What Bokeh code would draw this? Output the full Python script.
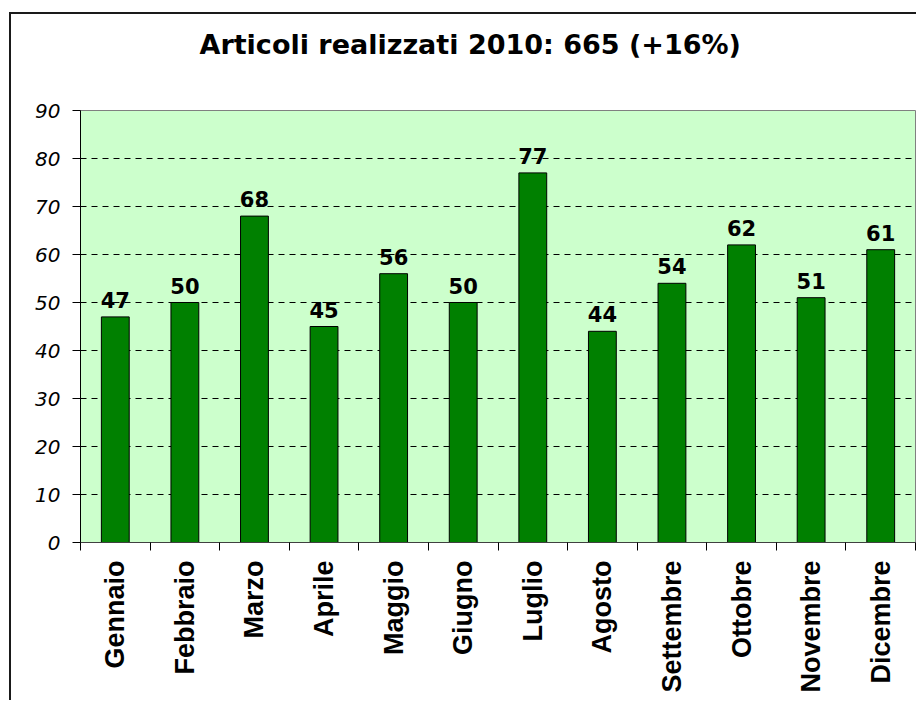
import math
from bokeh.plotting import figure
from bokeh.models import ColumnDataSource, Range1d, FixedTicker, Title
from bokeh.core.properties import value
from bokeh.embed import file_html
from bokeh.resources import INLINE

months = ["Gennaio", "Febbraio", "Marzo", "Aprile", "Maggio", "Giugno",
          "Luglio", "Agosto", "Settembre", "Ottobre", "Novembre", "Dicembre"]
articles = [47, 50, 68, 45, 56, 50, 77, 44, 54, 62, 51, 61]
y_ticks = [0, 10, 20, 30, 40, 50, 60, 70, 80, 90]
title_text = "Articoli realizzati 2010: 665 (+16%)"

n = len(months)
centers = [i + 0.5 for i in range(n)]
src = ColumnDataSource(dict(x=centers, month=months, val=articles,
                            lab=[str(v) for v in articles]))

p = figure(width=907, height=688, output_backend="svg", toolbar_location=None,
           title=None,
           x_range=Range1d(0, n), y_range=Range1d(0, 90),
           min_border_left=69, min_border_right=3, min_border_top=96,
           min_border_bottom=160)

# outer chart border (left and top edges visible in the window)
p.margin = (12, 0, 0, 9)
p.styles = {"border-left": "2px solid #1a1a1a", "border-top": "2px solid #1a1a1a"}

p.background_fill_color = "#CCFFCC"
p.border_fill_color = "white"
p.outline_line_color = "#808080"
p.outline_line_width = 1

# spacer panel, then the title further out
p.add_layout(Title(text=" ", text_font_size="1px", standoff=43), "above")
p.add_layout(Title(text=title_text, align="left", offset=119,
                   text_font="DejaVu Sans", text_font_style="bold",
                   text_font_size="27px", text_color="black", standoff=10),
             "above")

# bars
p.vbar(x="x", top="val", width=0.4, source=src, fill_color="#008000",
       line_color="black", line_width=1)
p.text(x="x", y="val", text="lab", source=src, text_align="center",
       text_baseline="alphabetic", y_offset=-17,
       text_font=value("DejaVu Sans"), text_font_style="bold",
       text_font_size="21px", text_color="black")

# y axis
ya = p.yaxis[0]
ya.ticker = FixedTicker(ticks=y_ticks)
ya.major_tick_out = 8
ya.major_tick_in = 0
ya.minor_tick_line_color = None
ya.axis_line_color = "black"
ya.major_tick_line_color = "black"
ya.major_label_text_font = "DejaVu Sans"
ya.major_label_text_font_style = "italic"
ya.major_label_text_font_size = "20px"
ya.major_label_text_color = "black"
ya.major_label_standoff = 12

# grid
p.xgrid.grid_line_color = None
p.ygrid.ticker = FixedTicker(ticks=y_ticks)
p.ygrid.grid_line_color = "black"
p.ygrid.grid_line_dash = "6 5"
p.ygrid.grid_line_width = 1

# x axis: labels at category centres, tick marks at category boundaries
xa = p.xaxis[0]
xa.ticker = FixedTicker(ticks=centers, minor_ticks=list(range(n + 1)))
xa.major_label_overrides = {c: m for c, m in zip(centers, months)}
xa.major_tick_line_color = None
xa.major_tick_out = 8
xa.major_tick_in = 0
xa.minor_tick_line_color = "black"
xa.minor_tick_out = 8
xa.minor_tick_in = 0
xa.axis_line_color = "#404040"
xa.major_label_orientation = math.pi / 2
xa.major_label_text_font = "Liberation Sans"
xa.major_label_text_font_style = "bold"
xa.major_label_text_font_size = "27px"
xa.major_label_text_color = "black"
xa.major_label_standoff = 10

open("out.html", "w").write(file_html(p, INLINE))
